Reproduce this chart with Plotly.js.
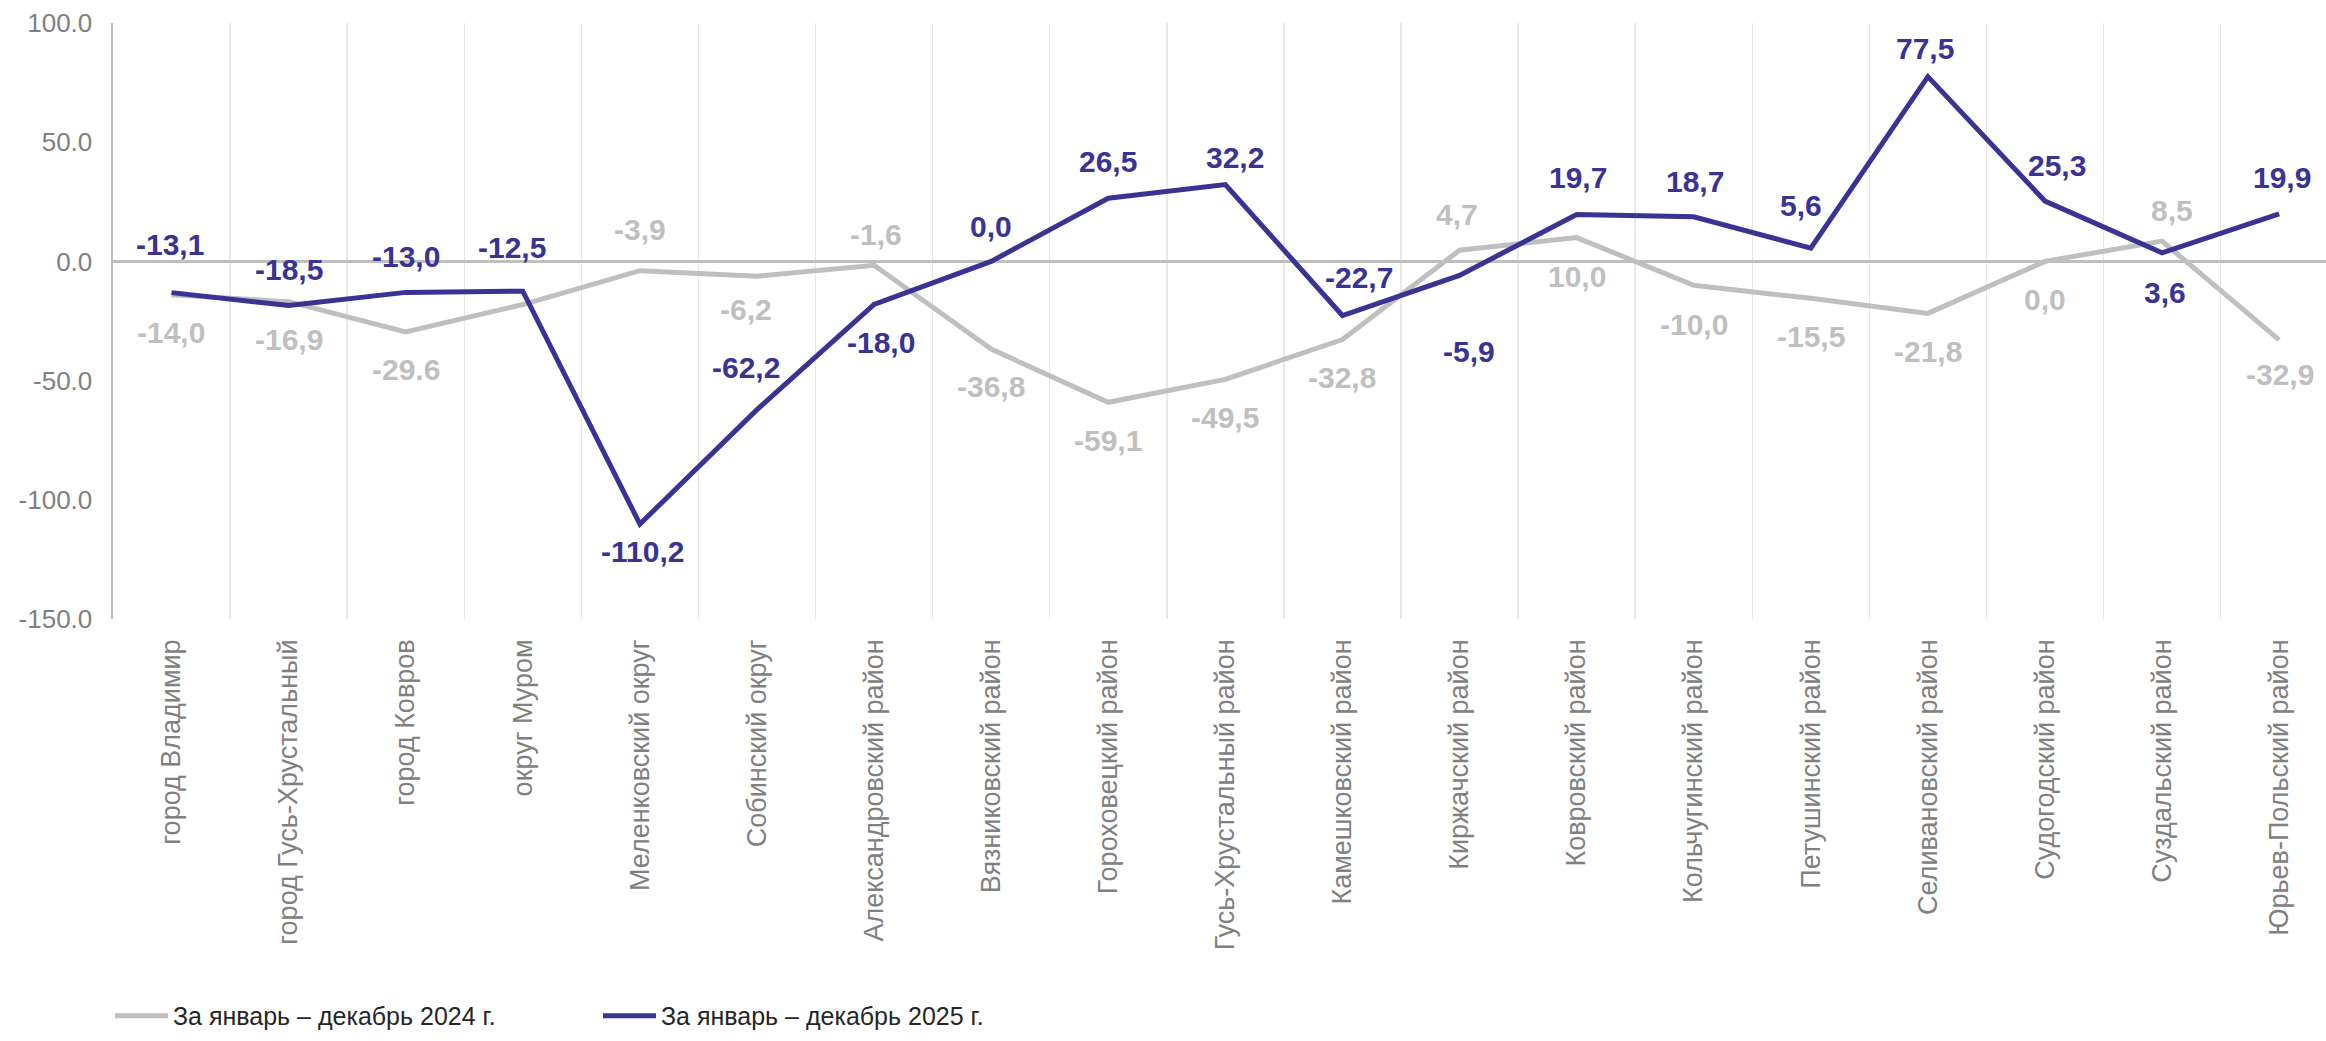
<!DOCTYPE html>
<html>
<head>
<meta charset="utf-8">
<script src="https://cdn.plot.ly/plotly-3.0.1.min.js"></script>
<style>
  html, body { margin: 0; padding: 0; background: #ffffff; }
  #chart { width: 2326px; height: 1041px; }
</style>
</head>
<body>
<div id="chart"></div>
<script>
// ---------- data ----------
const categories = [
  'город Владимир', 'город Гусь-Хрустальный', 'город Ковров', 'округ Муром',
  'Меленковский округ', 'Собинский округ', 'Александровский район', 'Вязниковский район',
  'Гороховецкий район', 'Гусь-Хрустальный район', 'Камешковский район', 'Киржачский район',
  'Ковровский район', 'Кольчугинский район', 'Петушинский район', 'Селивановский район',
  'Судогодский район', 'Суздальский район', 'Юрьев-Польский район'
];
const series2024Name = 'За январь – декабрь 2024 г.';
const series2025Name = 'За январь – декабрь 2025 г.';
const values2024 = [-14.0, -16.9, -29.6, -18.1, -3.9, -6.2, -1.6, -36.8, -59.1, -49.5, -32.8, 4.7, 10.0, -10.0, -15.5, -21.8, 0.0, 8.5, -32.9];
const values2025 = [-13.1, -18.5, -13.0, -12.5, -110.2, -62.2, -18.0, 0.0, 26.5, 32.2, -22.7, -5.9, 19.7, 18.7, 5.6, 77.5, 25.3, 3.6, 19.9];
const labels2024 = ['-14,0', '-16,9', '-29.6', '', '-3,9', '-6,2', '-1,6', '-36,8', '-59,1', '-49,5', '-32,8', '4,7', '10,0', '-10,0', '-15,5', '-21,8', '0,0', '8,5', '-32,9'];
const labels2025 = ['-13,1', '-18,5', '-13,0', '-12,5', '-110,2', '-62,2', '-18,0', '0,0', '26,5', '32,2', '-22,7', '-5,9', '19,7', '18,7', '5,6', '77,5', '25,3', '3,6', '19,9'];
const yTickVals = [-150, -100, -50, 0, 50, 100];
const yTickText = ['-150.0', '-100.0', '-50.0', '0.0', '50.0', '100.0'];

// ---------- label placement (pixels, styling only) ----------
const shiftY2024 = [-38, -38, -38, 0, 41, -33, 31, -37, -38, -38, -38, 36, -39, -39, -38, -38, -38, 31, -35];
const shiftX2024 = [-1, 0, 0, 0, 0, -11, 2, 0, 0, 0, 0, -3, 0, 0, 0, 0, 0, 10, 1];
const shiftY2025 = [48, 36, 36, 44, -27, 42, -38, 35, 37, 27, 38, -76, 37, 35, 43, 28, 36, -40, 36];
const shiftX2025 = [-2, 0, 0, -11, 3, -11, 7, 0, 0, 10, 17, 9, 1, 1, -10, -3, 12, 3, 3];

const BLUE = '#393393';
const GREY = '#BFBFBF';
const FONT = '"Liberation Sans", Arial, sans-serif';

const traces = [
  {
    type: 'scatter', mode: 'lines', name: series2024Name,
    x: categories, y: values2024,
    line: { color: GREY, width: 5 },
    hoverinfo: 'skip'
  },
  {
    type: 'scatter', mode: 'lines', name: series2025Name,
    x: categories, y: values2025,
    line: { color: BLUE, width: 5 },
    hoverinfo: 'skip'
  }
];

const annotations = [];
categories.forEach((c, i) => {
  if (labels2024[i] !== '') {
    annotations.push({
      x: c, y: values2024[i], xref: 'x', yref: 'y', text: labels2024[i],
      showarrow: false, xshift: shiftX2024[i], yshift: shiftY2024[i],
      font: { family: FONT, size: 30, color: GREY, weight: 'bold' }
    });
  }
  annotations.push({
    x: c, y: values2025[i], xref: 'x', yref: 'y', text: labels2025[i],
    showarrow: false, xshift: shiftX2025[i], yshift: shiftY2025[i],
    font: { family: FONT, size: 30, color: BLUE, weight: 'bold' }
  });
});

const layout = {
  width: 2326, height: 1041,
  paper_bgcolor: '#ffffff', plot_bgcolor: '#ffffff',
  margin: { l: 113, r: 0, t: 23, b: 422, pad: 0 },
  font: { family: FONT, color: '#808080' },
  showlegend: true,
  legend: {
    orientation: 'h',
    x: 110 / 2326, xref: 'container', xanchor: 'left',
    y: 0.002, yref: 'container', yanchor: 'bottom',
    font: { family: FONT, size: 25, color: '#262626' },
    itemwidth: 53,
    entrywidth: 420, entrywidthmode: 'pixels',
    bgcolor: 'rgba(0,0,0,0)'
  },
  xaxis: {
    type: 'category',
    range: [-0.5, 18.4],
    tickson: 'boundaries',
    showgrid: true, gridcolor: '#E8E8E8', gridwidth: 1.5,
    showline: false, zeroline: false,
    ticks: '', tickangle: -90,
    ticklabelstandoff: 14,
    tickfont: { family: FONT, size: 27, color: '#808080' },
    fixedrange: true
  },
  yaxis: {
    range: [-150, 100],
    tickvals: yTickVals, ticktext: yTickText,
    showgrid: false,
    zeroline: true, zerolinecolor: '#BFBFBF', zerolinewidth: 2.5,
    showline: true, linecolor: '#BFBFBF', linewidth: 2.5,
    ticks: '', ticklabelstandoff: 13,
    tickfont: { family: FONT, size: 26, color: '#808080' },
    fixedrange: true
  },
  annotations: annotations
};

Plotly.newPlot('chart', traces, layout, { displayModeBar: false, staticPlot: true });
</script>
</body>
</html>
